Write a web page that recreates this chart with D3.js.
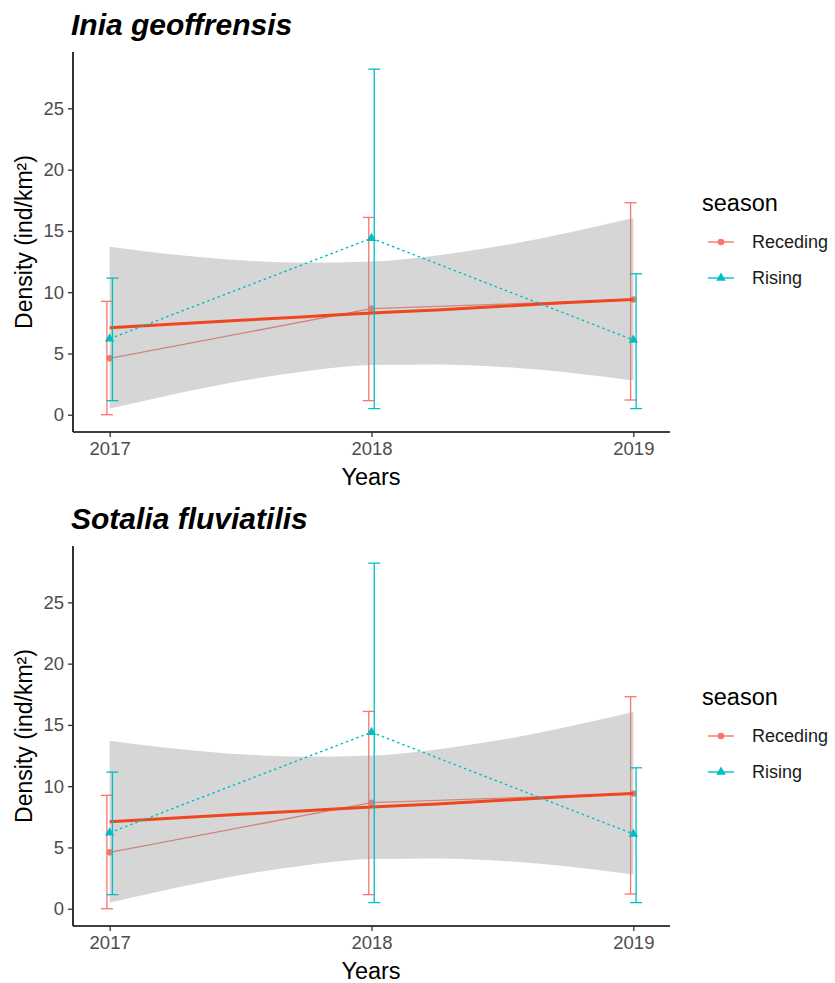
<!DOCTYPE html>
<html>
<head>
<meta charset="utf-8">
<script src="https://cdn.jsdelivr.net/npm/d3@7"></script>
<style>
  body { margin: 0; background: #fff; }
  text { font-family: "Liberation Sans", Arial, sans-serif; }
</style>
</head>
<body>
<svg id="chart" width="835" height="983"></svg>
<script>
// values (both panels show the same numbers)
var species = ["Inia geoffrensis", "Sotalia fluviatilis"];
var years = [2017, 2018, 2019];
var yTicks = [0, 5, 10, 15, 20, 25];

var recedingMean = [4.6, 8.65, 9.4];
var recedingLo   = [0.0, 1.15, 1.2];
var recedingHi   = [9.25, 16.1, 17.3];

var risingMean = [6.2, 14.4, 6.1];
var risingLo   = [1.15, 0.5, 0.5];
var risingHi   = [11.15, 28.2, 11.5];

// lm smooth with its band
var fitYears = [2017, 2017.25, 2017.5, 2017.75, 2018, 2018.25, 2018.5, 2018.75, 2019];
var fitMid   = [7.1, 7.4, 7.7, 8.0, 8.3, 8.55, 8.85, 9.15, 9.4];
var fitLo    = [0.5, 1.7, 2.75, 3.55, 4.05, 4.1, 3.9, 3.45, 2.8];
var fitHi    = [13.7, 13.05, 12.6, 12.4, 12.5, 13.0, 13.8, 14.85, 16.05];

var colReceding = "#F8766D";
var colRising = "#00BFC4";
var colFit = "#F0461E";

var svg = d3.select("#chart");

var x = d3.scaleLinear().domain([2016.86, 2019.14]).range([73, 670]);
var y = d3.scaleLinear().domain([-1.41, 29.6]).range([432, 52]);
var dodge = 0.0105; // error bars are shifted a little apart
var capW = 0.023;

species.forEach(function(name, i) {
  var g = svg.append("g").attr("transform", "translate(0," + (i * 494) + ")");

  function errorbars(lo, hi, off, col) {
    var eb = g.append("g").attr("stroke", col).attr("stroke-width", 1.3).attr("fill", "none");
    years.forEach(function(yr, k) {
      var cx = yr + off;
      eb.append("line").attr("x1", x(cx)).attr("x2", x(cx)).attr("y1", y(lo[k])).attr("y2", y(hi[k]));
      eb.append("line").attr("x1", x(cx - capW)).attr("x2", x(cx + capW)).attr("y1", y(lo[k])).attr("y2", y(lo[k]));
      eb.append("line").attr("x1", x(cx - capW)).attr("x2", x(cx + capW)).attr("y1", y(hi[k])).attr("y2", y(hi[k]));
    });
  }

  var line = d3.line().x(function(d) { return x(d[0]); }).y(function(d) { return y(d[1]); });

  // receding layer (sits below the band)
  errorbars(recedingLo, recedingHi, -dodge, colReceding);
  g.append("path")
    .attr("d", line(years.map(function(yr, k) { return [yr, recedingMean[k]]; })))
    .attr("fill", "none").attr("stroke", colReceding).attr("stroke-width", 1.3);
  g.selectAll(".ptR").data(years).enter().append("circle")
    .attr("cx", function(d) { return x(d); })
    .attr("cy", function(d, k) { return y(recedingMean[k]); })
    .attr("r", 3.3).attr("fill", colReceding);

  // smooth band + line
  var band = d3.area()
    .x(function(d, k) { return x(fitYears[k]); })
    .y0(function(d, k) { return y(fitLo[k]); })
    .y1(function(d, k) { return y(fitHi[k]); })
    .curve(d3.curveMonotoneX);
  g.append("path").attr("d", band(fitYears)).attr("fill", "#999999").attr("fill-opacity", 0.4);
  g.append("path")
    .attr("d", line.curve(d3.curveMonotoneX)(fitYears.map(function(yr, k) { return [yr, fitMid[k]]; })))
    .attr("fill", "none").attr("stroke", colFit).attr("stroke-width", 3);
  line.curve(d3.curveLinear);

  // rising layer
  errorbars(risingLo, risingHi, dodge, colRising);
  g.append("path")
    .attr("d", line(years.map(function(yr, k) { return [yr, risingMean[k]]; })))
    .attr("fill", "none").attr("stroke", colRising).attr("stroke-width", 1.4)
    .attr("stroke-dasharray", "2.5,3");
  var tri = d3.symbol().type(d3.symbolTriangle).size(40);
  g.selectAll(".ptT").data(years).enter().append("path")
    .attr("d", tri)
    .attr("transform", function(d, k) { return "translate(" + x(d) + "," + y(risingMean[k]) + ")"; })
    .attr("fill", colRising);

  // axes
  var yAxis = g.append("g").attr("transform", "translate(73,0)")
    .call(d3.axisLeft(y).tickValues(yTicks).tickSize(5).tickPadding(4));
  var xAxis = g.append("g").attr("transform", "translate(0,432)")
    .call(d3.axisBottom(x).tickValues(years).tickFormat(d3.format("d")).tickSize(5).tickPadding(5));
  [yAxis, xAxis].forEach(function(a) {
    a.select(".domain").attr("stroke", "#000").attr("stroke-width", 1.6);
    a.selectAll(".tick line").attr("stroke", "#333").attr("stroke-width", 1.3);
    a.selectAll(".tick text").attr("fill", "#4D4D4D").style("font-size", "18.5px")
      .style("font-family", "'Liberation Sans', Arial, sans-serif");
  });
  yAxis.select(".domain").attr("d", "M0,52V432");
  xAxis.select(".domain").attr("d", "M73,0H670");

  // titles
  g.append("text").attr("x", 71).attr("y", 35)
    .style("font-size", "30px").style("font-weight", "bold").style("font-style", "italic")
    .text(name);
  g.append("text").attr("x", 371).attr("y", 485).attr("text-anchor", "middle")
    .style("font-size", "23.5px").text("Years");
  g.append("text").attr("transform", "translate(32,242) rotate(-90)").attr("text-anchor", "middle")
    .style("font-size", "23px").text("Density (ind/km²)");

  // legend
  var lg = g.append("g");
  lg.append("text").attr("x", 702).attr("y", 211).style("font-size", "23.5px").text("season");
  var items = [["Receding", colReceding, "circle"], ["Rising", colRising, "triangle"]];
  items.forEach(function(it, k) {
    var ky = 242 + k * 36;
    lg.append("line").attr("x1", 708).attr("x2", 734).attr("y1", ky).attr("y2", ky)
      .attr("stroke", it[1]).attr("stroke-width", 1.4);
    if (it[2] === "circle") {
      lg.append("circle").attr("cx", 721).attr("cy", ky).attr("r", 3.3).attr("fill", it[1]);
    } else {
      lg.append("path").attr("d", tri).attr("transform", "translate(721," + ky + ")").attr("fill", it[1]);
    }
    lg.append("text").attr("x", 752).attr("y", ky).attr("dy", "0.36em")
      .style("font-size", "18px").attr("fill", "#1a1a1a").text(it[0]);
  });
});
</script>
</body>
</html>
